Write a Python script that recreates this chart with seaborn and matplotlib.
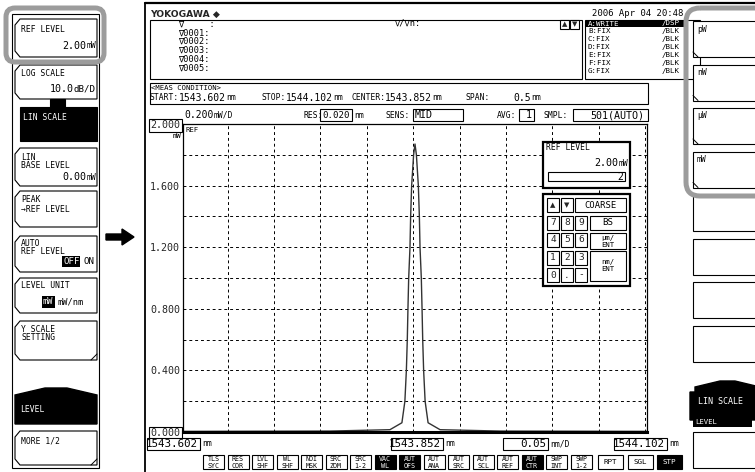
import matplotlib
matplotlib.use("Agg")
import matplotlib.pyplot as plt
import seaborn as sns
from matplotlib.patches import Rectangle, Polygon, FancyBboxPatch

# ---- data ----
wavelength_nm = [1543.602, 1543.760, 1543.825, 1543.8379, 1543.8411, 1543.8427, 1543.8437,
                 1543.8444, 1543.8452, 1543.8466, 1543.8473, 1543.8484, 1543.8505, 1543.852,
                 1543.8535, 1543.8556, 1543.8567, 1543.8574, 1543.8588, 1543.8596, 1543.8603,
                 1543.8613, 1543.8629, 1543.8661, 1543.879, 1543.944, 1544.102]
power_mw = [0.004, 0.006, 0.015, 0.06, 0.2, 0.4, 0.6,
            0.8, 1.0, 1.2, 1.4, 1.6, 1.8, 1.87,
            1.8, 1.6, 1.4, 1.2, 1.0, 0.8, 0.6,
            0.4, 0.2, 0.06, 0.015, 0.006, 0.004]

y_grid = [0.0, 0.2, 0.4, 0.6, 0.8, 1.0, 1.2, 1.4, 1.6, 1.8, 2.0]
y_labels = ["0.000", "", "0.400", "", "0.800", "", "1.200", "", "1.600", "", "2.000"]
x_start, x_center, x_stop, x_div = 1543.602, 1543.852, 1544.102, 0.05

marker_rows = ["∇     :", "∇0001:", "∇0002:", "∇0003:", "∇0004:", "∇0005:"]
trace_rows = [("A:WRITE", "/DSP"), ("B:FIX", "/BLK"), ("C:FIX", "/BLK"), ("D:FIX", "/BLK"),
              ("E:FIX", "/BLK"), ("F:FIX", "/BLK"), ("G:FIX", "/BLK")]
func_keys = [("TLS", "SYC"), ("RES", "COR"), ("LVL", "SHF"), ("WL", "SHF"), ("NOI", "MSK"),
             ("SRC", "ZOM"), ("SRC", "1-2"), ("VAC", "WL"), ("AUT", "OFS"), ("AUT", "ANA"),
             ("AUT", "SRC"), ("AUT", "SCL"), ("AUT", "REF"), ("AUT", "CTR"), ("SWP", "INT"),
             ("SWP", "1-2")]
func_on = [False, False, False, False, False, False, False, True, True, False,
           False, False, False, True, False, False]
unit_keys = ["pW", "nW", "μW", "mW", "", "", "", ""]

W, H = 755, 472
MONO = "DejaVu Sans Mono"
SMALL, BIG, MID = 5.8, 7.8, 7.0

sns.set_style("white")
plt.rcParams["font.family"] = ["DejaVu Sans Mono", "DejaVu Sans"]

fig = plt.figure(figsize=(W / 100, H / 100), dpi=100)

# ---- trace area ----
px0, px1, py0, py1 = 183, 647, 124, 432
ax = fig.add_axes([px0 / W, 1 - py1 / H, (px1 - px0) / W, (py1 - py0) / H])
sns.lineplot(x=wavelength_nm, y=power_mw, ax=ax, color="#333333", lw=1.0, estimator=None)
ax.set_xlim(x_start, x_stop)
ax.set_ylim(0, 2.0)
ax.xaxis.set_major_locator(matplotlib.ticker.MultipleLocator(x_div))
ax.set_yticks(y_grid)
ax.set_yticklabels(y_labels, fontsize=7.2, family=MONO)
ax.tick_params(axis="both", length=0, pad=2)
ax.tick_params(axis="x", labelbottom=False)
ax.grid(True, color="black", lw=0.7, ls=(0, (3, 3)))
for side in ["left", "top", "right"]:
    ax.spines[side].set_linewidth(0.9)
    ax.spines[side].set_color("black")
ax.spines["bottom"].set_linewidth(2.2)
ax.spines["bottom"].set_color("black")
ax.set_xlabel("")
ax.set_ylabel("")
for i in (0, len(y_grid) - 1):
    ax.get_yticklabels()[i].set_bbox(dict(boxstyle="square,pad=0.15", fc="white", ec="black", lw=0.8))

# ---- overlay in pixel units ----
ov = fig.add_axes([0, 0, 1, 1], zorder=5)
ov.set_xlim(0, W)
ov.set_ylim(H, 0)
ov.axis("off")
ov.patch.set_alpha(0)


def cw(size):
    return 0.836 * size


def t(x, y, s, size=SMALL, ha="left", color="black", **kw):
    ov.text(x, y, s, fontsize=size, ha=ha, va="center", color=color, family=MONO, **kw)


def mixed(x, y, parts, ha="left"):
    total = sum(len(s) * cw(sz) for s, sz in parts)
    if ha == "right":
        x -= total
    for s, sz in parts:
        t(x, y, s, sz)
        x += len(s) * cw(sz)


def box(x0, y0, x1, y1, fc="white", ec="black", lw=0.8, z=1):
    ov.add_patch(Rectangle((x0, y0), x1 - x0, y1 - y0, fc=fc, ec=ec, lw=lw, zorder=z))


def softkey(x0, y0, x1, y1, corner=None):
    pts = [(x0 + 5, y0), (x1, y0), (x1, y1), (x0 + 5, y1), (x0, y1 - 6), (x0, y0 + 6)]
    ov.add_patch(Polygon(pts, closed=True, fc="white", ec="black", lw=0.8))
    if corner == "br":
        ov.plot([x1 - 6, x1], [y1, y1 - 6], color="black", lw=0.7)


# left softkey panel
box(12, 14, 99, 468)
softkey(15, 19, 97, 57)
t(21, 30, "REF LEVEL")
mixed(96, 46, [("2.00", 7.2), ("mW", SMALL)], ha="right")
softkey(15, 65, 97, 99)
t(21, 73, "LOG SCALE")
mixed(96, 89, [("10.0", 7.2), ("dB/D", 6.6)], ha="right")
box(50, 99, 65, 108, fc="black")
box(20, 107, 97, 141, fc="black")
t(23, 118, "LIN SCALE", color="white")
softkey(15, 148, 97, 186)
t(21, 157, "LIN")
t(21, 166, "BASE LEVEL")
mixed(96, 177, [("0.00", 7.2), ("mW", SMALL)], ha="right")
softkey(15, 191, 97, 227)
t(21, 200, "PEAK")
t(21, 209, "→REF LEVEL")
softkey(15, 236, 97, 272)
t(21, 243, "AUTO")
t(21, 251, "REF LEVEL")
box(62, 256, 80, 267, fc="black", lw=0)
t(63, 262, "OFF", 6.6, color="white")
t(83, 262, "ON", 6.6)
softkey(15, 278, 97, 313)
t(21, 286, "LEVEL UNIT")
box(42, 296, 55, 308, fc="black", lw=0)
t(42.5, 302, "mW", 6.2, color="white")
t(58, 302, "mW/nm", 6.2)
softkey(15, 321, 97, 360, corner="br")
t(21, 329, "Y SCALE")
t(21, 337, "SETTING")
ov.add_patch(Polygon([(15, 424), (15, 395), (45, 388), (67, 388), (97, 395), (97, 424)],
                     closed=True, fc="black", ec="black"))
t(20, 410, "LEVEL", color="white")
softkey(15, 431, 97, 465, corner="br")
t(21, 441, "MORE 1/2")
ov.add_patch(FancyBboxPatch((6, 8), 98, 54, boxstyle="round,pad=0,rounding_size=9",
                            fc="none", ec="#9c9c9c", lw=3.6, zorder=6))

# arrow
ov.add_patch(Polygon([(106, 234), (122, 234), (122, 229), (134, 237), (122, 245), (122, 240), (106, 240)],
                     closed=True, fc="black", ec="black"))

# screen border
ov.plot([145, 145], [3, H], color="black", lw=1.3)
ov.plot([145, W], [3, 3], color="black", lw=1.6)

# header
ov.text(150, 14, "YOKOGAWA ◆", fontsize=6.6, family="DejaVu Sans", weight="bold", va="center")
t(683, 13, "2006 Apr 04 20:48", 6.4, ha="right")

# marker box
box(150, 20, 582, 79)
for i, row in enumerate(marker_rows):
    t(178, 24 + i * 8.8, row, 6.2)
t(394, 23, "∇/∇n:", 6.2)
box(560, 20, 569, 29)
box(570, 20, 579, 29)
ov.text(564.5, 24.5, "▲", fontsize=5, ha="center", va="center", family="DejaVu Sans")
ov.text(574.5, 24.5, "▼", fontsize=5, ha="center", va="center", family="DejaVu Sans")

# trace box
box(585, 20, 700, 79)
box(586, 20, 684, 27, fc="black", lw=0)
for i, (name, mode) in enumerate(trace_rows):
    c = "white" if i == 0 else "black"
    y = 23.5 + i * 7.9
    t(588, y, name, 5.4, color=c)
    t(662, y, mode, 5.4, color=c)

# measurement condition
box(150, 83, 648, 104)
t(151, 88, "<MEAS CONDITION>", 5.2)
mixed(150, 98, [("START:", SMALL), ("1543.602", MID), ("nm", SMALL)])
mixed(262, 98, [("STOP:", SMALL), ("1544.102", MID), ("nm", SMALL)])
mixed(351, 98, [("CENTER:", SMALL), ("1543.852", MID), ("nm", SMALL)])
t(466, 98, "SPAN:")
mixed(541, 98, [("0.5", MID), ("nm", SMALL)], ha="right")

# settings row
mixed(184, 115, [("0.200", MID), ("mW/D", SMALL)])
t(303, 115, "RES:")
box(320, 109, 352, 121)
t(322, 115, "0.020", 6.6)
t(354, 115, "nm")
t(385, 115, "SENS:")
box(413, 109, 463, 121)
t(415, 115, "MID", 7.2)
t(497, 115, "AVG:")
box(519, 109, 534, 121)
t(532, 115, "1", 7.2, ha="right")
t(544, 115, "SMPL:")
box(573, 109, 648, 121)
t(644, 115, "501(AUTO)", 7.2, ha="right")

t(181, 136, "mW", 5.2, ha="right")
t(186, 130, "REF", 5.2)

# ref level dialog
box(543, 142, 630, 188, lw=1.6)
t(546, 147, "REF LEVEL")
mixed(628, 163, [("2.00", 7.2), ("mW", SMALL)], ha="right")
box(548, 172, 625, 181)
t(623, 176.5, "2", 7, ha="right")

# keypad
box(543, 194, 630, 286, lw=1.6)
kx = [547, 561, 575]
rows = [["▲", "▼"], ["7", "8", "9"], ["4", "5", "6"], ["1", "2", "3"], ["0", ".", "-"]]
for r, keys in enumerate(rows):
    y0 = 198 + r * 17.5
    for c, k in enumerate(keys):
        box(kx[c], y0, kx[c] + 12, y0 + 14)
        fam = "DejaVu Sans" if k in "▲▼" else MONO
        ov.text(kx[c] + 6, y0 + 7, k, fontsize=6.8 if fam == MONO else 5, ha="center", va="center", family=fam)
box(575, 198, 626, 212)
t(600.5, 205, "COARSE", 6.4, ha="center")
box(590, 215.5, 626, 229.5)
t(608, 222.5, "BS", 6.6, ha="center")
box(590, 233, 626, 249)
t(608, 238, "μm/", 5.2, ha="center")
t(608, 245, "ENT", 5.2, ha="center")
box(590, 251, 626, 281)
t(608, 262, "nm/", 5.2, ha="center")
t(608, 269, "ENT", 5.2, ha="center")

# bottom wavelength labels
box(147, 438, 200, 450)
t(198, 444, "1543.602", BIG, ha="right")
t(202, 444, "nm")
box(391, 438, 443, 450)
t(441, 444, "1543.852", BIG, ha="right")
t(445, 444, "nm")
box(503, 438, 548, 450)
t(546, 444, "0.05", BIG, ha="right")
t(550, 444, "nm/D")
box(614, 438, 667, 450)
t(665, 444, "1544.102", BIG, ha="right")
t(669, 444, "nm")

# function keys
for i, (a, b) in enumerate(func_keys):
    x0 = 203 + i * 24.5
    on = func_on[i]
    box(x0, 455, x0 + 21, 469, fc="black" if on else "white")
    c = "white" if on else "black"
    t(x0 + 10.5, 459, a, 4.8, ha="center", color=c)
    t(x0 + 10.5, 465.5, b, 4.8, ha="center", color=c)
for i, (name, on) in enumerate([("RPT", False), ("SGL", False), ("STP", True)]):
    x0 = 598 + i * 29.5
    box(x0, 455, x0 + 25, 469, fc="black" if on else "white")
    t(x0 + 12.5, 462, name, 5.4, ha="center", color="white" if on else "black")

# right softkeys
for i, name in enumerate(unit_keys):
    y0 = 21 + i * 43.5
    box(693, y0, 760, y0 + 36)
    if name:
        t(697, y0 + 8, name, 5.8)
        ov.plot([693, 698], [y0 + 31, y0 + 36], color="black", lw=0.7)
ov.add_patch(Polygon([(690, 420), (690, 392), (695, 392), (695, 387), (720, 381), (735, 381), (760, 387), (760, 420)],
                     closed=True, fc="black", ec="black"))
t(698, 401, "LIN SCALE", 6.0, color="white")
box(693, 418, 752, 427, fc="black", lw=0)
t(695, 422.5, "LEVEL", 5.2, color="white")
box(693, 432, 760, 468)
ov.add_patch(FancyBboxPatch((686, 8), 110, 188, boxstyle="round,pad=0,rounding_size=14",
                            fc="none", ec="#9c9c9c", lw=3.6, zorder=6))

fig.savefig("out.png", dpi=100)
